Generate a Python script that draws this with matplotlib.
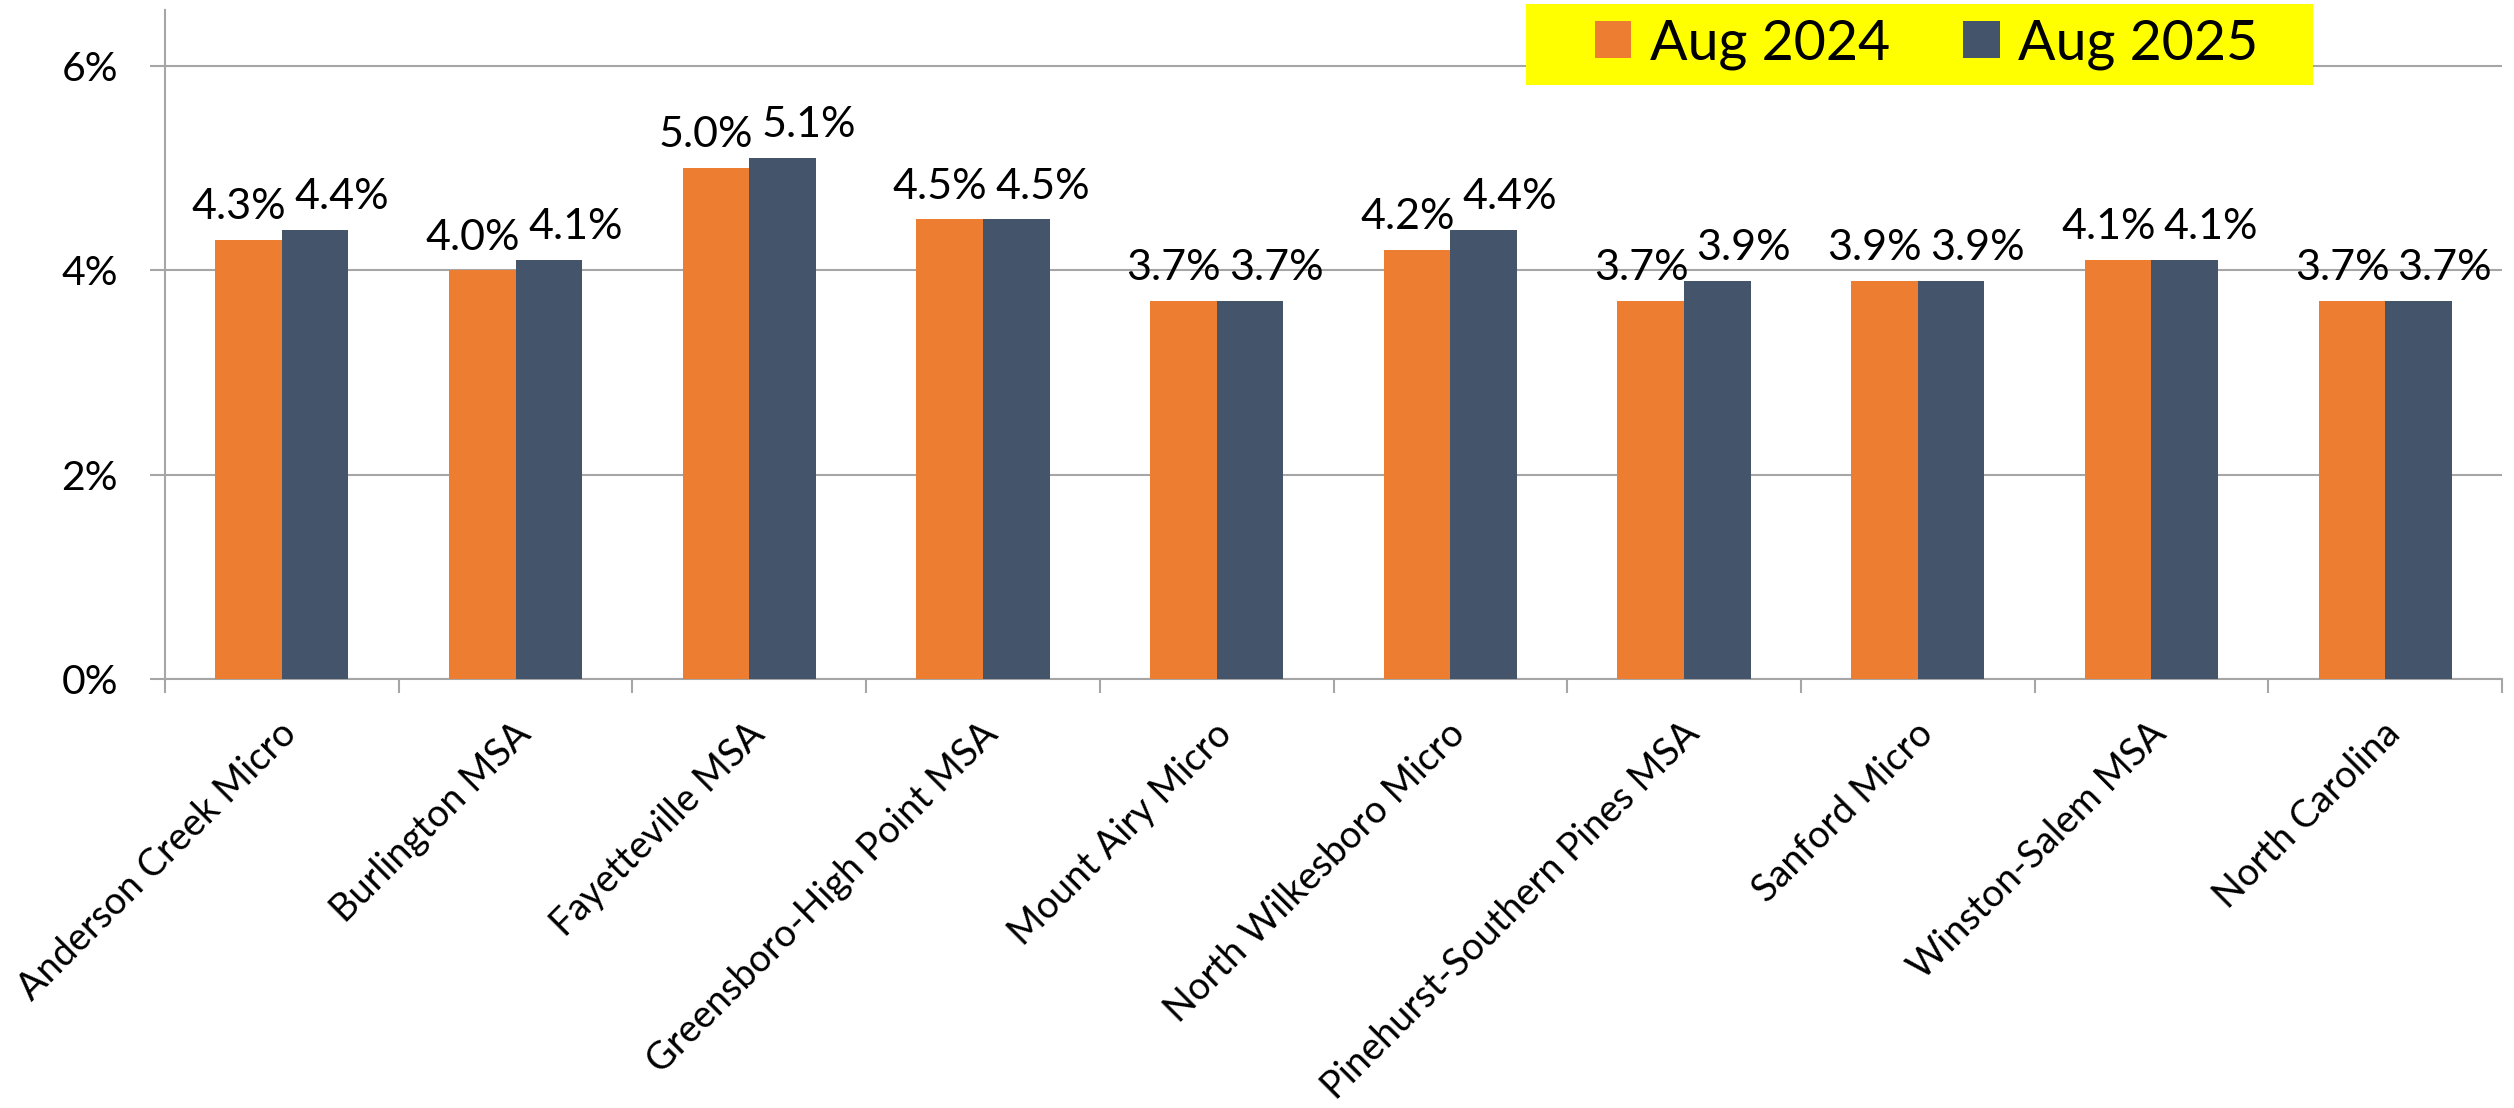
# Unemployment rate by area, Aug 2024 vs Aug 2025
import matplotlib.pyplot as plt
import matplotlib.transforms as mtransforms
import numpy as np
from matplotlib.patches import Rectangle

plt.rcParams['font.family'] = ['Lato', 'DejaVu Sans']

# data
areas = ["Anderson Creek Micro", "Burlington MSA", "Fayetteville MSA",
         "Greensboro-High Point MSA", "Mount Airy Micro", "North Wilkesboro Micro",
         "Pinehurst-Southern Pines MSA", "Sanford Micro", "Winston-Salem MSA",
         "North Carolina"]
aug_2024 = [4.3, 4.0, 5.0, 4.5, 3.7, 4.2, 3.7, 3.9, 4.1, 3.7]
aug_2025 = [4.4, 4.1, 5.1, 4.5, 3.7, 4.4, 3.9, 3.9, 4.1, 3.7]
series_names = ["Aug 2024", "Aug 2025"]
y_ticks = [0, 2, 4, 6]

orange = "#ED7D31"
navy = "#44546A"
grid_grey = "#A6A6A6"

W, H = 2514, 1108
fig = plt.figure(figsize=(W / 100, H / 100), dpi=100)
ax = fig.add_axes([165 / W, 1 - 679 / H, (2502 - 165) / W, (679 - 10) / H])

x = np.arange(len(areas))
bw = 0.285
b1 = ax.bar(x - bw / 2, aug_2024, bw, color=orange, zorder=3)
b2 = ax.bar(x + bw / 2, aug_2025, bw, color=navy, zorder=3)

# value labels above the bars; pushed apart a little so the pairs don't collide
for bars, vals, dx in [(b1, aug_2024, -7), (b2, aug_2025, 19)]:
    for r, v in zip(bars, vals):
        ax.annotate(f"{v:.1f}%", (r.get_x() + r.get_width() / 2, v),
                    xytext=(dx, 15), textcoords="offset points",
                    ha="center", va="baseline", fontsize=31, color="black")

ax.set_xlim(-0.5, len(areas) - 0.5)
ax.set_ylim(0, 6.55)
ax.set_yticks(y_ticks)
ax.set_yticklabels([f"{t}%" for t in y_ticks], fontsize=29.5)
ax.yaxis.grid(True, color=grid_grey, linewidth=1.5, zorder=0)
ax.tick_params(axis="y", length=11, width=1.5, color=grid_grey, pad=23)

# category labels at centres, tick marks at the boundaries
ax.set_xticks(x)
ax.set_xticklabels(areas, rotation=45, ha="right", va="baseline",
                   rotation_mode="anchor", fontsize=27.3)
ax.tick_params(axis="x", which="major", length=0, pad=41)
shift = mtransforms.ScaledTranslation(0.17, 0, fig.dpi_scale_trans)
for lab in ax.get_xticklabels():
    lab.set_transform(lab.get_transform() + shift)
ax.set_xticks(np.arange(len(areas) + 1) - 0.5, minor=True)
ax.tick_params(axis="x", which="minor", length=10, width=1.5, color=grid_grey)

for s in ["top", "right"]:
    ax.spines[s].set_visible(False)
for s in ["left", "bottom"]:
    ax.spines[s].set_color(grid_grey)
    ax.spines[s].set_linewidth(1.5)

# yellow legend box
fig.patches.append(Rectangle((1526 / W, 1 - 85 / H), (2313 - 1526) / W, 81 / H,
                             transform=fig.transFigure, facecolor="#FFFF00",
                             edgecolor="none", zorder=5))
leg = fig.legend([b1, b2], series_names, loc="center",
                 bbox_to_anchor=(1927 / W, 1 - 44 / H), ncol=2, frameon=False,
                 fontsize=40, handlelength=0.65, handleheight=0.65,
                 handletextpad=0.34, columnspacing=1.31, borderpad=0)
leg.set_zorder(6)

fig.savefig("out.png", dpi=100)
